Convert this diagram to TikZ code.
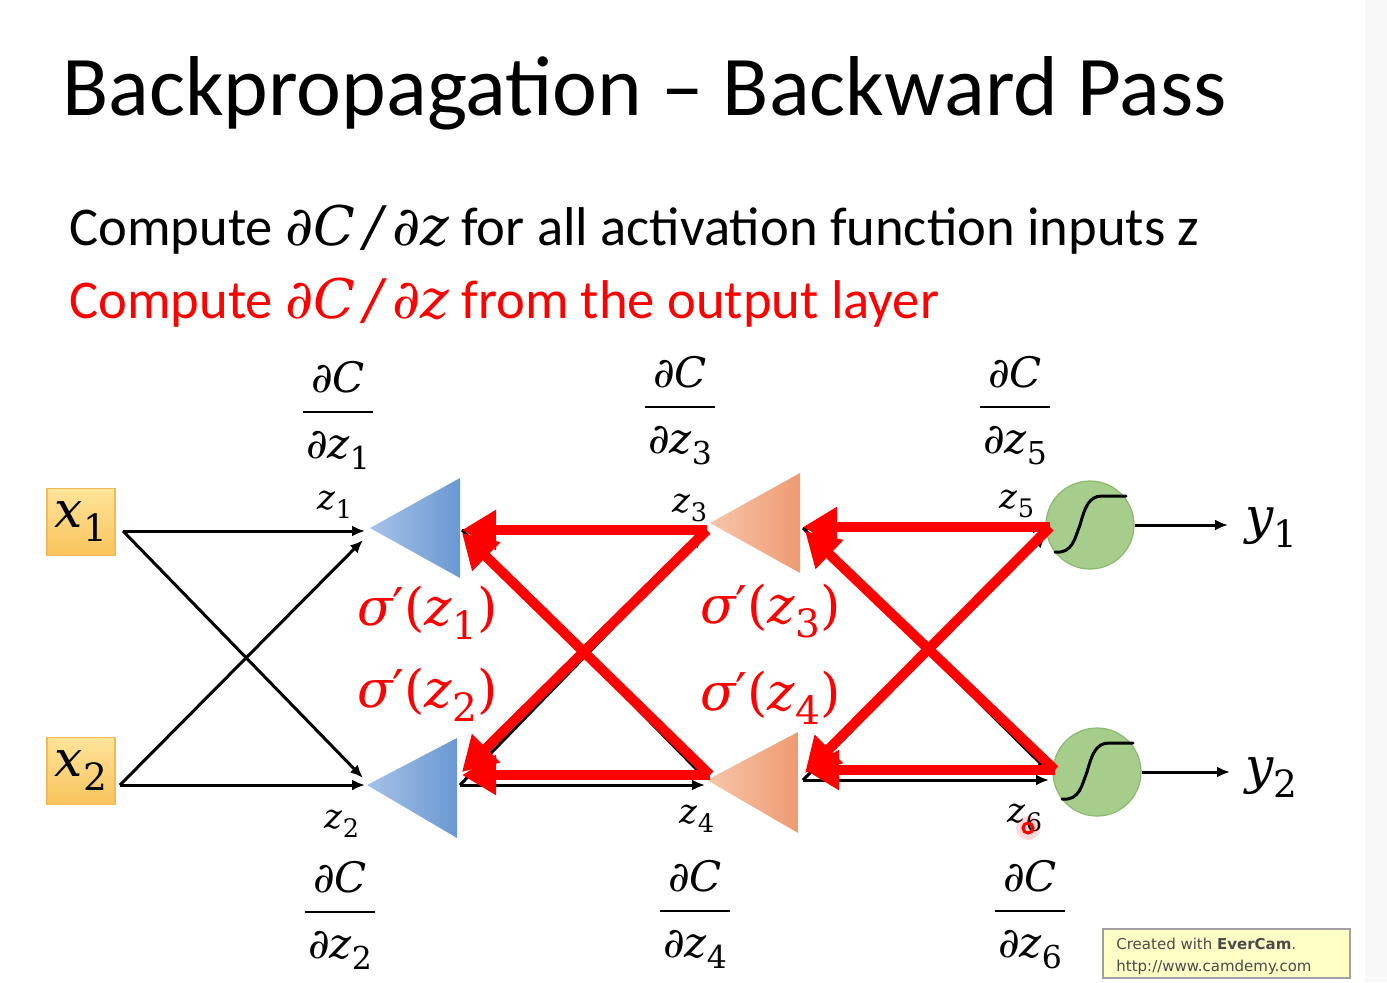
\documentclass[tikz,border=0pt]{standalone}
\usepackage{fontspec}
\usepackage{graphicx}
\setmainfont{Carlito}
\newfontfamily\mf{DejaVu Serif}
\newfontfamily\wmf{DejaVu Sans}
\usetikzlibrary{arrows.meta}
\definecolor{boxtop}{HTML}{FFE49A}
\definecolor{boxbot}{HTML}{F8C35C}
\definecolor{boxline}{HTML}{F2BB55}
\definecolor{bluel}{HTML}{A6C2E7}
\definecolor{blued}{HTML}{6A98D3}
\definecolor{orl}{HTML}{F7C6AA}
\definecolor{ord}{HTML}{EE9A72}
\definecolor{grn}{HTML}{A6CD8C}
\definecolor{grnd}{HTML}{8DB870}
\definecolor{wmfill}{HTML}{FFFFC6}
\definecolor{wmline}{HTML}{A0A0A0}
\definecolor{wmtext}{HTML}{4A4A4A}
\definecolor{strip}{HTML}{F8F8F8}
\newcommand\mi[1]{{\mf\itshape #1}}
\newcommand\mr[1]{{\mf #1}}
\newcommand\sbs[1]{\raisebox{-0.28em}{\scalebox{0.75}{\mf #1}}}
\newcommand\fsz[1]{\fontsize{#1}{#1}\selectfont}
\tikzset{
  lab/.style={inner sep=0pt, anchor=base},
  inbox/.style={draw=boxline, line width=0.75pt, top color=boxtop, bottom color=boxbot, minimum width=34pt, minimum height=33.5pt, inner sep=0pt, font=\fsz{25pt}},
  neuron/.style={circle, draw=grnd, line width=0.6pt, fill=grn, minimum size=44pt, inner sep=0pt},
  fwd/.style={line width=1.5pt, -{Latex[length=6.5pt,width=5.5pt]}},
  back/.style={red, line width=5pt, -{Triangle[length=17pt,width=19pt]}},
  sig/.style={line width=1.5pt, line cap=round},
  zlab/.style={lab, font=\fsz{17pt}},
  frlab/.style={lab, font=\fsz{21pt}},
  frrule/.style={line width=1.25pt},
  sglab/.style={inner sep=0pt, anchor=base west, text=red, font=\fsz{26pt}},
}
\begin{document}
\begin{tikzpicture}[x=0.5pt,y=-0.5pt]
\useasboundingbox (0,0) rectangle (1387,982);
\fill[white] (0,0) rectangle (1387,982);
\fill[strip] (1365,0) rectangle (1387,982);

% titles
\node[inner sep=0pt, anchor=base west, font=\fsz{42.5pt}] (title) at (62,115) {Backpropagation -- Backward Pass};
\node[inner sep=0pt, anchor=base west, font=\fsz{27.3pt}] (line1) at (69,245) {Compute \mi{∂C\,/\,∂z} for all activation function inputs z};
\node[inner sep=0pt, anchor=base west, font=\fsz{27.3pt}, text=red] (line2) at (69,318) {Compute \mi{∂C\,/\,∂z} from the output layer};

% input boxes
\node[inbox] (x1) at (81,522) {\mi{x}\sbs{1}};
\node[inbox] (x2) at (81,771) {\mi{x}\sbs{2}};

% triangles (apex, top, bottom)
\coordinate (t1a) at (370,528); \coordinate (t1t) at (460,478); \coordinate (t1b) at (460,578);
\coordinate (t2a) at (367,785); \coordinate (t2t) at (457,738); \coordinate (t2b) at (457,838);
\coordinate (t3a) at (710,523); \coordinate (t3t) at (800,473); \coordinate (t3b) at (800,573);
\coordinate (t4a) at (707,780); \coordinate (t4t) at (798,732); \coordinate (t4b) at (798,833);
\path[left color=bluel, right color=blued] (t1a) -- (t1t) -- (t1b) -- cycle;
\path[left color=bluel, right color=blued] (t2a) -- (t2t) -- (t2b) -- cycle;
\path[left color=orl, right color=ord] (t3a) -- (t3t) -- (t3b) -- cycle;
\path[left color=orl, right color=ord] (t4a) -- (t4t) -- (t4b) -- cycle;

% neurons
\node[neuron] (n5) at (1090,525) {};
\node[neuron] (n6) at (1097,772) {};
\begin{scope}[shift={(n5)}]
\draw[sig] (-35,27) .. controls (-17,29) and (-15,12) .. (-10,0) .. controls (-5,-18) and (-1,-29) .. (12,-29) -- (36,-29);
\end{scope}
\begin{scope}[shift={(n6)}]
\draw[sig] (-35,27) .. controls (-17,29) and (-15,12) .. (-10,0) .. controls (-5,-18) and (-1,-29) .. (12,-29) -- (36,-29);
\end{scope}

% connection points
\coordinate (x1o) at (123,531);
\coordinate (x2o) at (120,785);
\coordinate (t1i) at (365,531);
\coordinate (t1i2) at (363,540);
\coordinate (t2i) at (365,785);
\coordinate (t2i2) at (363,778);
\coordinate (t1o) at (462,530);
\coordinate (t2o) at (460,785);
\coordinate (t3i) at (705,530);
\coordinate (t3i2) at (703,535);
\coordinate (t4i) at (705,785);
\coordinate (t4i2) at (705,778);
\coordinate (t3o) at (803,528);
\coordinate (t4o) at (803,780);
\coordinate (n5i) at (1046,528);
\coordinate (n5i2) at (1046,535);
\coordinate (n6i) at (1049,780);
\coordinate (n6i2) at (1049,772);
\coordinate (y1a) at (1228,525);
\coordinate (y2a) at (1230,772);

% forward black arrows
\draw[fwd] (x1o) -- (t1i);
\draw[fwd] (x1o) -- (t2i2);
\draw[fwd] (x2o) -- (t2i);
\draw[fwd] (x2o) -- (t1i2);
\draw[fwd] (t1o) -- (t3i);
\draw[fwd] (t1o) -- (t4i2);
\draw[fwd] (t2o) -- (t4i);
\draw[fwd] (t2o) -- (t3i2);
\draw[fwd] (t3o) -- (n5i);
\draw[fwd] (t3o) -- (n6i2);
\draw[fwd] (t4o) -- (n6i);
\draw[fwd] (t4o) -- (n5i2);
\draw[fwd] (n5.east) -- (y1a);
\draw[fwd] (n6.east) -- (y2a);

% backward red arrows
\coordinate (b3) at (707,530);
\coordinate (b4) at (710,775);
\coordinate (b5) at (1050,527);
\coordinate (b6) at (1055,770);
\coordinate (r1) at (462,530);
\coordinate (r1d) at (462,533);
\coordinate (r2) at (462,775);
\coordinate (r2d) at (462,772);
\coordinate (r3) at (803,527);
\coordinate (r3d) at (805,531);
\coordinate (r4) at (805,770);
\coordinate (r4d) at (805,773);
\draw[back] (b3) -- (r1);
\draw[back] (b3) -- (r2d);
\draw[back] (b4) -- (r2);
\draw[back] (b4) -- (r1d);
\draw[back] (b5) -- (r3);
\draw[back] (b5) -- (r4d);
\draw[back] (b6) -- (r4);
\draw[back] (b6) -- (r3d);

% z labels
\node[zlab] (z1) at (335,509) {\mi{z}\sbs{1}};
\node[zlab] (z2) at (342,828) {\mi{z}\sbs{2}};
\node[zlab] (z3) at (690,512) {\mi{z}\sbs{3}};
\node[zlab] (z4) at (697,823) {\mi{z}\sbs{4}};
\node[zlab] (z5) at (1017,508) {\mi{z}\sbs{5}};
\node[zlab] (z6) at (1025,822) {\mi{z}\sbs{6}};

% outputs
\node[inner sep=0pt, anchor=base west, font=\fsz{25pt}] (y1) at (1245,533) {\mi{y}\sbs{1}};
\node[inner sep=0pt, anchor=base west, font=\fsz{25pt}] (y2) at (1245,783) {\mi{y}\sbs{2}};

% sigma' labels
\node[sglab] (s1) at (357,625) {\mi{σ}\mr{′(}\mi{z}\sbs{1}\mr{)}};
\node[sglab] (s2) at (357,707) {\mi{σ}\mr{′(}\mi{z}\sbs{2}\mr{)}};
\node[sglab] (s3) at (700,623) {\mi{σ}\mr{′(}\mi{z}\sbs{3}\mr{)}};
\node[sglab] (s4) at (700,710) {\mi{σ}\mr{′(}\mi{z}\sbs{4}\mr{)}};

% fractions
\node[frlab] (f1n) at (338,392) {\mi{∂C}};
\draw[frrule] (303,412) -- (373,412);
\node[frlab] (f1d) at (338,458) {\mi{∂z}\sbs{1}};
\node[frlab] (f3n) at (680,387) {\mi{∂C}};
\draw[frrule] (645,407) -- (715,407);
\node[frlab] (f3d) at (680,453) {\mi{∂z}\sbs{3}};
\node[frlab] (f5n) at (1015,387) {\mi{∂C}};
\draw[frrule] (980,407) -- (1050,407);
\node[frlab] (f5d) at (1015,453) {\mi{∂z}\sbs{5}};
\node[frlab] (f2n) at (340,892) {\mi{∂C}};
\draw[frrule] (305,912) -- (375,912);
\node[frlab] (f2d) at (340,958) {\mi{∂z}\sbs{2}};
\node[frlab] (f4n) at (695,891) {\mi{∂C}};
\draw[frrule] (660,911) -- (730,911);
\node[frlab] (f4d) at (695,957) {\mi{∂z}\sbs{4}};
\node[frlab] (f6n) at (1030,891) {\mi{∂C}};
\draw[frrule] (995,911) -- (1065,911);
\node[frlab] (f6d) at (1030,957) {\mi{∂z}\sbs{6}};

% cursor mark
\fill[red, opacity=0.15] (1028,828) circle (12);
\draw[red, line width=1.5pt] (1028,828) circle (5);

% watermark
\node[draw=wmline, line width=0.75pt, fill=wmfill, inner sep=0pt, minimum width=123.5pt, minimum height=24.5pt] (wm) at (1226.5,953.5) {};
\node[inner sep=0pt, anchor=base west, text=wmtext, font=\wmf\fsz{7.5pt}] (wm1) at (1116,949) {Created with \textbf{EverCam}.};
\node[inner sep=0pt, anchor=base west, text=wmtext, font=\wmf\fsz{7.5pt}] (wm2) at (1116,971) {http://www.camdemy.com};
\end{tikzpicture}
\end{document}
